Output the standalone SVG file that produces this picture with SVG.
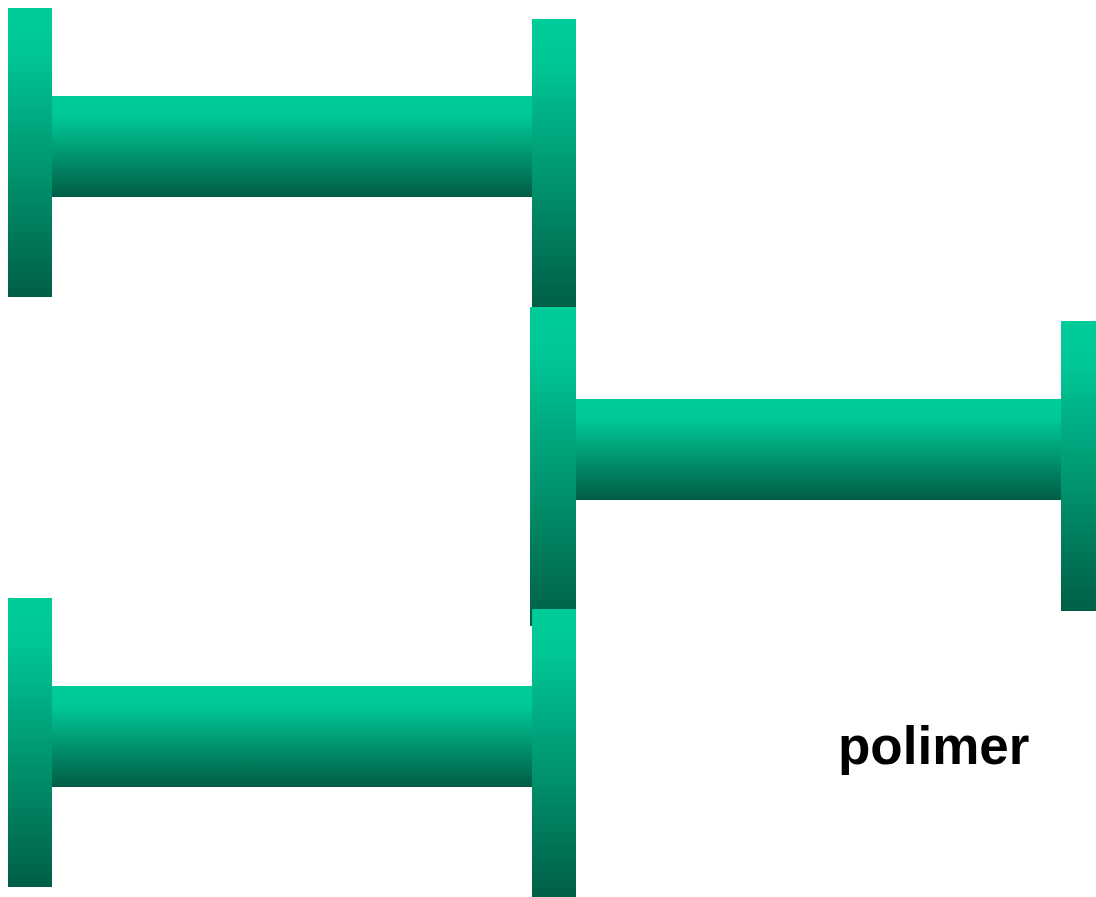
<svg xmlns="http://www.w3.org/2000/svg" width="1096" height="897" viewBox="0 0 1096 897">
<defs>
<linearGradient id="gF" x1="0" y1="0" x2="0" y2="1">
<stop offset="0" stop-color="#00CC99"/>
<stop offset="0.15" stop-color="#00C796"/>
<stop offset="1" stop-color="#005E46"/>
</linearGradient>
<linearGradient id="gP" x1="0" y1="0" x2="0" y2="1">
<stop offset="0" stop-color="#00CC99"/>
<stop offset="0.2" stop-color="#00C896"/>
<stop offset="1" stop-color="#005C45"/>
</linearGradient>
<style>
.fl{fill:url(#gF)}
.pp{fill:url(#gP)}
.lbl{font-family:"Liberation Sans",Arial,sans-serif;font-weight:bold;font-size:53px;fill:#000}
</style>
</defs>
<g id="unit-top">
<rect class="pp" x="52" y="96" width="480" height="101"/>
<rect class="fl" x="8" y="8" width="44" height="289"/>
<rect class="fl" x="532" y="19" width="44" height="288"/>
</g>
<g id="unit-middle">
<rect class="pp" x="576" y="399" width="485" height="101"/>
<rect class="fl" x="530" y="307" width="46" height="319"/>
<rect class="fl" x="1061" y="321" width="44" height="290"/>
</g>
<g id="unit-bottom">
<rect class="pp" x="52" y="686" width="480" height="101"/>
<rect class="fl" x="8" y="598" width="44" height="289"/>
<rect class="fl" x="532" y="609" width="44" height="288"/>
</g>
<g id="connectors"></g>
<g id="label">
<text class="lbl" x="838" y="764">polimer</text>
</g>
</svg>
